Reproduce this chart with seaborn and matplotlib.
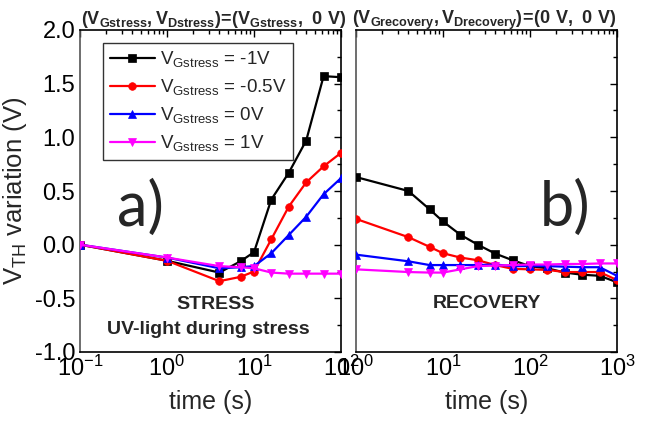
import matplotlib
matplotlib.use("Agg")
import matplotlib.pyplot as plt
from matplotlib import font_manager
from matplotlib.ticker import LogLocator, MultipleLocator, NullFormatter
import numpy as np
import pandas as pd
import seaborn as sns

# Stress phase (UV light during stress)
t_stress = [0.1, 1, 4, 7, 10, 15.8, 25.1, 39.8, 63.1, 100]
stress_m1 = [0.0, -0.15, -0.26, -0.155, -0.07, 0.42, 0.67, 0.97, 1.57, 1.56]
stress_m05 = [0.0, -0.15, -0.34, -0.30, -0.25, 0.05, 0.355, 0.58, 0.73, 0.855]
stress_0 = [0.0, -0.12, -0.22, -0.21, -0.20, -0.08, 0.09, 0.26, 0.47, 0.62]
stress_p1 = [0.0, -0.12, -0.20, -0.21, -0.22, -0.26, -0.27, -0.27, -0.27, -0.27]

# Recovery phase at (0 V, 0 V)
t_rec = [1, 4, 7, 10, 15.8, 25.1, 39.8, 63.1, 100, 158, 251, 398, 631, 1000]
rec_m1 = [0.63, 0.50, 0.33, 0.216, 0.093, 0.0, -0.083, -0.145, -0.20, -0.22, -0.26, -0.28, -0.29, -0.35]
rec_m05 = [0.24, 0.07, -0.02, -0.08, -0.12, -0.145, -0.19, -0.225, -0.23, -0.235, -0.255, -0.255, -0.255, -0.33]
rec_0 = [-0.093, -0.155, -0.19, -0.19, -0.19, -0.19, -0.185, -0.20, -0.20, -0.20, -0.205, -0.21, -0.21, -0.29]
rec_p1 = [-0.23, -0.255, -0.26, -0.26, -0.23, -0.20, -0.195, -0.19, -0.185, -0.185, -0.18, -0.18, -0.175, -0.175]

series_labels = [r"$\mathregular{V_{Gstress}}$ = -1V",
                 r"$\mathregular{V_{Gstress}}$ = -0.5V",
                 r"$\mathregular{V_{Gstress}}$ = 0V",
                 r"$\mathregular{V_{Gstress}}$ = 1V"]
colors = ["black", "#ff0000", "#0000ff", "#ff00ff"]
markers = ["s", "o", "^", "v"]

sns.set_theme(style="white")
installed = {f.name for f in font_manager.fontManager.ttflist}
tick_family = "Liberation Sans Narrow" if "Liberation Sans Narrow" in installed else "Liberation Sans"
plt.rcParams["font.family"] = ["Liberation Sans", "DejaVu Sans"]
plt.rcParams["mathtext.fontset"] = "custom"
plt.rcParams["mathtext.rm"] = "Liberation Sans"
plt.rcParams["mathtext.bf"] = "Liberation Sans:bold"
plt.rcParams["mathtext.default"] = "regular"

fig = plt.figure(figsize=(6.5, 4.26), dpi=100)
ax1 = fig.add_axes([80 / 650, 74 / 426, 261 / 650, 322 / 426])
ax2 = fig.add_axes([356 / 650, 74 / 426, 261 / 650, 322 / 426])


def long_frame(t, ys):
    rows = []
    for lab, y in zip(series_labels, ys):
        for ti, yi in zip(t, y):
            rows.append({"time": ti, "vth": yi, "series": lab})
    return pd.DataFrame(rows)


df_stress = long_frame(t_stress, [stress_m1, stress_m05, stress_0, stress_p1])
df_rec = long_frame(t_rec, [rec_m1, rec_m05, rec_0, rec_p1])

for ax, df in ((ax1, df_stress), (ax2, df_rec)):
    for lab, col, mk in zip(series_labels, colors, markers):
        sub = df[df["series"] == lab]
        sns.lineplot(data=sub, x="time", y="vth", ax=ax, color=col,
                     marker=mk, markersize=5.5, markeredgecolor=col,
                     markeredgewidth=0.5, linewidth=1.6, label=lab,
                     legend=(ax is ax1), zorder=3)

for ax in (ax1, ax2):
    ax.set_xscale("log")
    ax.set_ylim(-1.0, 2.0)
    ax.yaxis.set_major_locator(MultipleLocator(0.5))
    ax.yaxis.set_minor_locator(MultipleLocator(0.25))
    ax.xaxis.set_major_locator(LogLocator(base=10, numticks=10))
    ax.xaxis.set_minor_locator(LogLocator(base=10, subs=np.arange(2, 10), numticks=20))
    ax.xaxis.set_minor_formatter(NullFormatter())
    ax.tick_params(which="both", direction="in", top=True, right=True,
                   colors="black", labelsize=17)
    ax.tick_params(which="major", length=5, width=1)
    ax.tick_params(which="minor", length=3, width=1)
    ax.tick_params(axis="x", which="major", pad=3)
    for side in ("top", "right", "bottom"):
        ax.spines[side].set_color("black")
        ax.spines[side].set_linewidth(1.2)
    ax.spines["left"].set_color("#555555")
    ax.spines["left"].set_linewidth(1.2)
    ax.set_xlabel("time (s)", fontsize=18, family=tick_family, labelpad=6)
    ax.grid(False)

ax1.set_xlim(0.1, 100)
ax2.set_xlim(1, 1000)
ax2.set_yticklabels([])
ax2.set_ylabel("")
ax1.set_ylabel(r"$\mathregular{V_{TH}}$ variation (V)", fontsize=18.5,
               family=tick_family, labelpad=4)
ax1.set_yticks([-1.0, -0.5, 0.0, 0.5, 1.0, 1.5, 2.0])
ax1.set_yticklabels(["-1.0", "-0.5", "0.0", "0.5", "1.0", "1.5", "2.0"])
for lbl in ax1.get_xticklabels() + ax2.get_xticklabels() + ax1.get_yticklabels():
    lbl.set_family(tick_family)

ax1.set_title(r"$\mathbf{(V_{Gstress},V_{Dstress})\!=\!(V_{Gstress},\ 0\ V)}$",
              loc="left", fontsize=13, pad=4, x=0.005)
ax2.set_title(r"$\mathbf{(V_{Grecovery},V_{Drecovery})\!=\!(0\ V,\ 0\ V)}$",
              loc="left", fontsize=13, pad=4, x=-0.015)

leg = ax1.legend(loc="upper left", bbox_to_anchor=(0.088, 0.96), fontsize=13.5,
                 frameon=True, fancybox=False, edgecolor="black",
                 handlelength=2.4, handletextpad=0.3, labelspacing=0.42,
                 borderpad=0.35, borderaxespad=0)
leg.get_frame().set_linewidth(1.0)

ax1.text(0.23, 0.445, "a)", transform=ax1.transAxes, fontsize=44,
         family="Lato", ha="center", va="center")
ax2.text(0.80, 0.445, "b)", transform=ax2.transAxes, fontsize=44,
         family="Lato", ha="center", va="center")

ax1.text(0.52, 0.148, "STRESS", transform=ax1.transAxes, fontsize=14,
         fontweight="bold", ha="center", va="center")
ax1.text(0.49, 0.07, "UV-light during stress", transform=ax1.transAxes,
         fontsize=14, fontweight="bold", ha="center", va="center")
ax2.text(0.5, 0.15, "RECOVERY", transform=ax2.transAxes, fontsize=14,
         fontweight="bold", ha="center", va="center")

fig.savefig("out.png", dpi=100)
